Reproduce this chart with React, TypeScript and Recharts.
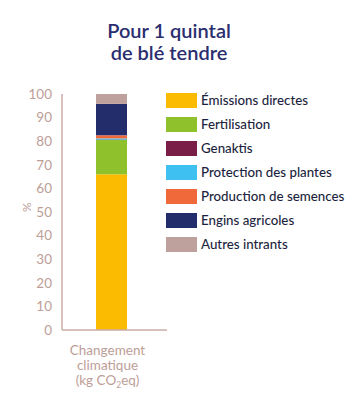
import { Bar, BarChart, XAxis, YAxis } from 'recharts'

const categories = ['Changement climatique (kg CO2eq)']

const seriesNames = [
  'Émissions directes',
  'Fertilisation',
  'Genaktis',
  'Protection des plantes',
  'Production de semences',
  'Engins agricoles',
  'Autres intrants',
]

const seriesValues = [66, 14.5, 0.2, 0.5, 1.3, 13.3, 4.2]

const seriesColors = ['#fbbb00', '#8fc12c', '#7a1e48', '#3ec1f0', '#f0693b', '#232d6b', '#bea19c']

const yTicks = [0, 10, 20, 30, 40, 50, 60, 70, 80, 90, 100]

const data = categories.map((name) => {
  const row: Record<string, string | number> = { name }
  seriesNames.forEach((s, i) => {
    row['s' + i] = seriesValues[i]
  })
  return row
})

const axisColor = '#c9aca7'
const tickColor = '#bd9e98'

function CategoryTick({ x, y }: any) {
  const cx = x - 4
  return (
    <text x={cx} y={y} textAnchor="middle" fill={tickColor} fontSize={13.5} fontFamily="Lato">
      <tspan x={cx} dy={17}>Changement</tspan>
      <tspan x={cx} dy={15}>climatique</tspan>
      <tspan x={cx} dy={15}>(kg CO</tspan>
      <tspan fontSize={8.5} dy={3}>2</tspan>
      <tspan dy={-3}>eq)</tspan>
    </text>
  )
}

export default function App() {
  return (
    <div style={{ position: 'absolute', left: 0, top: 0, width: 351, height: 403, background: '#fff' }}>
      <div
        style={{
          position: 'absolute',
          left: 0,
          top: 19,
          width: 338,
          textAlign: 'center',
          color: '#2a2e6f',
          fontFamily: 'Lato',
          fontWeight: 600,
          fontSize: 20,
          lineHeight: '22px',
        }}
      >
        Pour 1 quintal
        <br />
        de blé tendre
      </div>
      <div style={{ position: 'absolute', left: 166, top: 88 }}>
        {seriesNames.map((s, i) => (
          <div key={s} style={{ display: 'flex', alignItems: 'center', height: 24 }}>
            <span style={{ width: 31, height: 15, background: seriesColors[i], marginRight: 4 }} />
            <span style={{ fontSize: 13.3, color: '#1d1f40', fontFamily: 'Lato', fontWeight: 500 }}>{s}</span>
          </div>
        ))}
      </div>
      <BarChart
        width={351}
        height={403}
        data={data}
        margin={{ top: 94, right: 184, bottom: 13, left: 22 }}
        style={{ position: 'absolute', left: 0, top: 0 }}
      >
        <XAxis
          dataKey="name"
          tick={<CategoryTick />}
          tickLine={false}
          axisLine={{ stroke: axisColor, strokeWidth: 1.5 }}
          interval={0}
          height={60}
          padding={{ left: 0, right: 6 }}
        />
        <YAxis
          domain={[0, 100]}
          ticks={yTicks}
          interval={0}
          tickLine={false}
          axisLine={{ stroke: axisColor, strokeWidth: 1.5 }}
          width={40}
          tick={{ fill: tickColor, fontSize: 13.5, fontFamily: 'Lato' }}
          tickMargin={4}
          label={{ value: '%', angle: -90, position: 'insideLeft', fill: tickColor, fontSize: 12, fontFamily: 'Lato' }}
        />
        {seriesNames.map((s, i) => (
          <Bar
            key={s}
            dataKey={'s' + i}
            name={s}
            stackId="a"
            fill={seriesColors[i]}
            barSize={31}
            isAnimationActive={false}
          />
        ))}
      </BarChart>
    </div>
  )
}
